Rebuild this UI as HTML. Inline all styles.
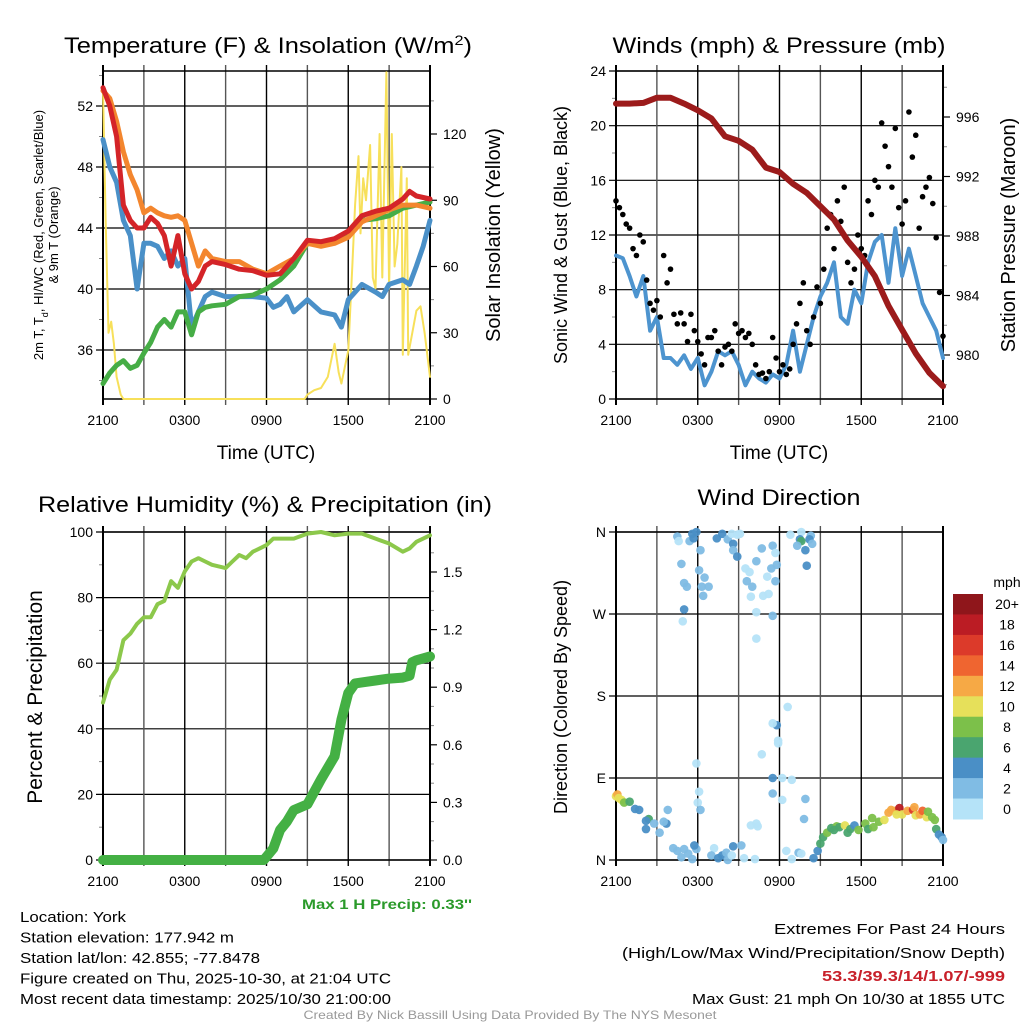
<!DOCTYPE html>
<html><head><meta charset="utf-8"><style>
html,body{margin:0;padding:0;background:#fff}
svg{display:block;font-family:"Liberation Sans",sans-serif}
</style></head><body>
<svg id="fig" width="1024" height="1024" viewBox="0 0 1024 1024">
<rect width="1024" height="1024" fill="#fff"/>
<text x="268" y="53" font-size="22" text-anchor="middle" textLength="408" lengthAdjust="spacingAndGlyphs">Temperature (F) &amp; Insolation (W/m<tspan baseline-shift="super" font-size="14">2</tspan>)</text>
<text x="779" y="53" font-size="22" text-anchor="middle" textLength="333" lengthAdjust="spacingAndGlyphs">Winds (mph) &amp; Pressure (mb)</text>
<text x="265" y="512" font-size="22" text-anchor="middle" textLength="454" lengthAdjust="spacingAndGlyphs">Relative Humidity (%) &amp; Precipitation (in)</text>
<text x="779" y="505" font-size="22" text-anchor="middle" textLength="163" lengthAdjust="spacingAndGlyphs">Wind Direction</text>
<g id="p1"></g>
<g id="p2"></g>
<g id="p3"></g>
<g id="p4"></g>
<text x="266" y="459" font-size="19" text-anchor="middle">Time (UTC)</text>
<text x="779" y="459" font-size="19" text-anchor="middle">Time (UTC)</text>
<text transform="translate(43,235) rotate(-90)" font-size="13" text-anchor="middle">2m T, T<tspan baseline-shift="sub" font-size="9">d</tspan>, HI/WC (Red, Green, Scarlet/Blue)</text>
<text transform="translate(58,235) rotate(-90)" font-size="13" text-anchor="middle">&amp; 9m T (Orange)</text>
<text transform="translate(500,235) rotate(-90)" font-size="20" text-anchor="middle">Solar Insolation (Yellow)</text>
<text transform="translate(567,235) rotate(-90)" font-size="18" text-anchor="middle">Sonic Wind &amp; Gust (Blue, Black)</text>
<text transform="translate(1015,235) rotate(-90)" font-size="20" text-anchor="middle">Station Pressure (Maroon)</text>
<text transform="translate(42,697) rotate(-90)" font-size="21" text-anchor="middle">Percent &amp; Precipitation</text>
<text transform="translate(567,697) rotate(-90)" font-size="18" text-anchor="middle">Direction (Colored By Speed)</text>
<text x="387" y="909" font-size="14" font-weight="bold" fill="#2a9a2a" text-anchor="middle" textLength="170" lengthAdjust="spacingAndGlyphs">Max 1 H Precip: 0.33''</text>
<g font-size="15">
<text x="20" y="922" textLength="106" lengthAdjust="spacingAndGlyphs">Location: York</text>
<text x="20" y="942.5" textLength="214" lengthAdjust="spacingAndGlyphs">Station elevation: 177.942 m</text>
<text x="20" y="963" textLength="240" lengthAdjust="spacingAndGlyphs">Station lat/lon: 42.855; -77.8478</text>
<text x="20" y="983.5" textLength="371" lengthAdjust="spacingAndGlyphs">Figure created on Thu, 2025-10-30, at 21:04 UTC</text>
<text x="20" y="1004" textLength="371" lengthAdjust="spacingAndGlyphs">Most recent data timestamp: 2025/10/30 21:00:00</text>
</g>
<g font-size="15" text-anchor="end">
<text x="1005" y="934" textLength="231" lengthAdjust="spacingAndGlyphs">Extremes For Past 24 Hours</text>
<text x="1005" y="958" textLength="383" lengthAdjust="spacingAndGlyphs">(High/Low/Max Wind/Precipitation/Snow Depth)</text>
<text x="1005" y="981" textLength="183" lengthAdjust="spacingAndGlyphs" font-weight="bold" fill="#c8202a">53.3/39.3/14/1.07/-999</text>
<text x="1005" y="1004" textLength="313" lengthAdjust="spacingAndGlyphs">Max Gust: 21 mph On 10/30 at 1855 UTC</text>
</g>
<text x="510" y="1019" font-size="12" fill="#999" text-anchor="middle" textLength="413" lengthAdjust="spacingAndGlyphs">Created By Nick Bassill Using Data Provided By The NYS Mesonet</text>
</svg>
<script>
// ---- data ----
const tT = [0,0.5,1,1.5,2,2.5,3,3.5,4,4.5,5,5.5,6,6.5,7,7.5,8,9,10,11,12,13,14,15,16,17,18,19,20,21,22,22.5,23,24];
const tempRed = [53.2,52,50,45.5,44.5,44,44,44.7,44.3,43.5,41.5,43.5,41,40,40.5,41.5,41.8,41.6,41.3,41.2,40.9,41,42,43.2,43.1,43.3,43.8,44.8,45.1,45.3,45.9,46.4,46.1,45.9];
const temp9m = [53,52.5,51,49,47.5,46.5,45,45.3,45,44.8,44.7,44.8,44.5,43,41.5,42.5,42,41.8,41.8,41.3,41,41.5,42,43,42.8,43,43.4,44.4,44.8,45.2,45.5,45.5,45.5,45.3];
const dewpt = [33.8,34.5,35,35.3,34.8,35,35.8,36.5,37.5,38,37.5,38.5,38.5,37,38.5,38.8,38.9,39,39.5,39.6,40,40.6,41.5,43,42.9,43.1,43.5,44.5,44.6,44.8,45.3,45.4,45.5,45.7];
const tB = [0,0.5,1,1.5,2,2.5,3,3.5,4,4.5,5,5.5,6,6.5,7,7.5,8,9,10,11,12,12.5,13,13.5,14,15,16,17,17.5,18,18.5,19,20,20.5,21,22,22.5,23,23.5,24];
const windChill = [49.8,48,47,44.5,43.5,40,43,43,42.8,42,42.5,41.5,42,37.5,38.5,39.5,39.8,39.5,39.5,39.5,39.4,38.8,39,39.5,38.5,39.3,38.5,38.3,37.5,39.3,39.8,40.3,39.8,39.5,40.3,40.6,40.3,41.5,42.8,44.5];
const tS = [0,0.2,0.4,0.6,0.8,1,1.3,1.5,14.8,15,15.5,16,16.5,17,17.3,17.5,18,18.3,18.5,18.75,18.9,19.1,19.3,19.6,19.8,20,20.3,20.5,20.8,21,21.2,21.4,21.6,21.9,22,22.3,22.4,22.7,23,23.3,23.6,24];
const solar = [140,80,30,35,25,10,2,0,0,2,4,5,10,25,12,7,22,60,88,110,75,100,90,115,55,50,120,55,148,50,120,60,70,105,20,100,20,30,40,42,30,10];
const tempTicks = [36,40,44,48,52];
const solarTicks = [0,30,60,90,120];
const timeLabels = ["2100","0300","0900","1500","2100"];

const tW = [0,0.5,1,1.5,2,2.5,3,3.5,4,4.5,5,5.5,6,6.5,7,7.5,8,8.5,9,9.5,10,10.5,11,11.5,12,12.5,13,13.5,14,14.5,15,15.5,16,16.5,17,17.5,18,18.5,19,19.5,20,20.5,21,21.5,22,22.5,23,23.5,24];
const windSpd = [10.5,10.3,9,7.5,9,5,6,3,3,2.5,3.2,2.2,3,1,2,3.5,3.2,3.5,2.5,1,2,1.5,1.2,1.8,1.5,2.5,5,2,4,6,7.5,8.5,10,6,5.5,8,7,10,11.5,12,8.5,12.5,9,11,9,7,6,5,3];
const gust = [14.5,14,13.5,12.8,12.5,11,10.5,12,11.5,8.7,7,6.5,7.2,6,10.5,8.5,9.5,6.2,5.5,6.3,5.5,4.2,6.2,5,4.2,3.3,2.5,4.5,4.5,5,3.5,2.5,3.8,4,3.5,5.5,4.8,5,4.5,4.8,4,2.5,1.8,1.9,1.5,2,4.5,3,2,2.5,1.8,2.2,4,5.5,7,8.5,5,4,6,8.2,7,9.5,12.5,13.5,11,14.5,13,15.5,10,8.5,9.5,12,11,10.5,14.5,13.5,16,15.5,20.2,18.5,17,15.5,19.8,14,12.8,14.5,21,17.7,19.3,12.5,14.8,15.5,16.2,14.3,11.8,7.8,4.6];
const tP = [0,1,2,3,4,5,6,7,8,9,10,11,12,13,14,15,16,17,18,19,20,21,22,23,24];
const pressure = [996.9,996.9,996.95,997.3,997.3,996.9,996.45,995.9,994.7,994.4,993.8,992.6,992.3,991.5,990.9,990,989.1,987.7,986.6,985.3,983.3,981.7,980.1,978.8,977.9];
const windTicks = [0,4,8,12,16,20,24];
const presTicks = [980,984,988,992,996];

const tH = [0,0.5,1,1.5,2,2.5,3,3.5,4,4.5,5,5.5,6,6.5,7,7.5,8,8.5,9,9.5,10,10.5,11,11.5,12,12.5,13,14,15,16,17,18,19,20,21,22,22.5,23,24];
const rh = [48,55,58,67,69,72,74,74,78,79,85,83,88,91,92,91,90,89.5,89,91,93,92,94,95,96,98,98,98,99.5,100,99,99.5,99.5,98,96.5,94,95,97,99];
const tR = [0,11.8,12.5,13,13.5,14,15,16,17,17.5,18,18.5,19,20,21,22,22.5,22.7,23,24];
const precip = [0,0,0.06,0.157,0.2,0.26,0.29,0.42,0.54,0.73,0.87,0.92,0.925,0.935,0.945,0.95,0.96,1.03,1.04,1.06];
const rhTicks = [0,20,40,60,80,100];
const precTicks = [0,0.3,0.6,0.9,1.2,1.5];

const dirTime = [0,0.1,0.2,0.4,0.6,1,1.4,1.7,2.4,2.2,2.2,2.8,3.8,3.7,3.5,3.2,4.2,4.5,4.8,5,5.3,5.6,5.9,4.5,4.6,4.8,5,5.2,5,4.9,5.4,5.6,5.7,5.9,6.1,6.3,6.2,6.4,6.5,6.8,6.1,5.9,6,6.2,5.75,7.2,7,7.5,7.8,8.1,8.2,8.6,8.5,9.2,9.4,7.4,7.8,8.2,8.5,8.6,8.6,8.9,9.1,8.9,9.5,9.8,9.6,9.9,10,10.3,10.7,10.3,10.3,10.8,11.2,11.1,11.5,11.4,11.8,11.7,11.5,11.7,11.8,11.9,11.5,12.6,12.9,12.2,11.5,11.5,11.9,10.7,10.4,10.2,10.3,9.9,12.2,12.5,12.9,13.4,13.6,13.9,13.8,14.3,14.2,13.6,14.4,13.9,13.5,13.6,13.3,12.8,14,14.5,14.8,15,15.2,15.5,15.8,16.2,16.4,16.8,17.2,17.5,17.8,18.3,18.5,18.9,19.3,19.7,20,20.2,20.5,20.8,21,21.4,21.8,21.9,22,22.3,22.5,22.8,22.9,23.2,23.4,23.5,23.7,23.9,24,16,17,18.8,20.6];
const dirDeg = [70,72,68,66,63,64,56,55,45,43,34,40,55,40,42,30,13,10,3,12,7,1,12,355,350,325,304,300,275,262,350,358,353,360,318,300,340,290,310,300,75,106,63,55,16,13,5,2,5,8,0,15,5,16,2,353,358,352,358,347,340,333,358,357,320,316,306,289,300,328,342,272,243,290,292,311,268,320,324,306,345,337,148,128,150,168,88,90,90,73,131,116,37,1,40,38,66,10,1,8,7,67,45,356,352,360,347,340,352,350,345,357,323,2,10,18,25,30,35,37,36,38,34,38,33,40,34,36,42,44,52,55,54,57,50,54,55,58,49,50,54,47,53,47,44,34,28,25,22,33,30,46,50];
const dirSpeed = [10,13,11,10,8,6,4,4,6,4,4,3,2,4,3,2,2,2,2,2,2,2,2,2,1,2,3,2,4,0,2,4,4,4,2,2,3,3,2,2,0,1,1,2,4,0,2,4,4,2,2,4,1,2,0,4,4,2,1,4,2,4,0,1,0,1,2,1,3,2,2,0,1,1,0,1,2,3,2,2,2,0,4,1,1,0,0,1,4,3,0,0,1,0,0,0,1,1,0,2,1,2,2,2,4,0,2,4,4,7,2,1,4,4,4,6,7,8,7,8,7,10,6,4,8,8,7,8,8,11,12,13,12,18,11,12,17,13,10,12,14,10,8,8,8,6,4,4,3,6,6,8,10];
const speedLabels = ["0","2","4","6","8","10","12","14","16","18","20+"];
const speedColors = ["#b5e3f8","#80bce4","#4a8fc6","#4aa56f","#7cc04a","#e6e05a","#f6a945","#ef6530","#dc3a2a","#bb1c24","#8f161b"];

// ---- helpers ----
const NS = "http://www.w3.org/2000/svg";
function mk(parent, tag, attrs){ const e=document.createElementNS(NS,tag); for(const k in attrs) e.setAttribute(k,attrs[k]); parent.appendChild(e); return e; }
const X0=103, X1=430;
function xScale(off){ return t => off + X0 + t*(X1-X0)/24; }
function lin(d0,d1,r0,r1){ return v => r0 + (v-d0)*(r1-r0)/(d1-d0); }
function pathD(ts,vs,xs,ys){ return ts.map((t,i)=>(i?"L":"M")+xs(t).toFixed(1)+","+ys(vs[i]).toFixed(1)).join(""); }

function frame(g, off, top, bot, yticksL, ysL, ytl, yticksR, ysR, ytr, minorL, minorR){
  const xs = xScale(off);
  yticksL.forEach(v=>{ const y=ysL(v);
    const l=mk(g,"line",{x1:xs(0)-7,x2:xs(24),y1:y,y2:y,stroke:"#000","stroke-width":1.2});
     
    const t=mk(g,"text",{x:xs(0)-10,y:y+5,"font-size":14,"text-anchor":"end"}); t.textContent=ytl(v);
     
  });
  (minorL||[]).forEach(v=>{const y=ysL(v); mk(g,"line",{x1:xs(0)-4,x2:xs(0),y1:y,y2:y,stroke:"#888","stroke-width":1});});
  if(yticksR) yticksR.forEach(v=>{ const y=ysR(v);
    mk(g,"line",{x1:xs(24),x2:xs(24)+7,y1:y,y2:y,stroke:"#000","stroke-width":1.2});
    const t=mk(g,"text",{x:xs(24)+13,y:y+5,"font-size":14}); t.textContent=ytr(v);
     
  });
  (minorR||[]).forEach(v=>{const y=ysR(v); mk(g,"line",{x1:xs(24),x2:xs(24)+4,y1:y,y2:y,stroke:"#888","stroke-width":1});});
  for(let h=0;h<=24;h+=3){ const x=xs(h);
    const l=mk(g,"line",{x1:x,x2:x,y1:top-6,y2:bot+6,stroke:(h%6===0?"#000":"#555"),"stroke-width":(h===0||h===24)?2:1.4});
     
  }
  mk(g,"line",{x1:xs(0),x2:xs(24),y1:top,y2:top,stroke:"#000","stroke-width":1.4});
  mk(g,"line",{x1:xs(0),x2:xs(24),y1:bot,y2:bot,stroke:"#000","stroke-width":1.4});
  timeLabels.forEach((s,i)=>{ const t=mk(g,"text",{x:xs(i*6),y:bot+26,"font-size":14,"text-anchor":"middle"}); t.textContent=s;
      });
  return xs;
}
function line(g,d,color,w,name){ const p=mk(g,"path",{d:d,fill:"none",stroke:color,"stroke-width":w,"stroke-linejoin":"round","stroke-linecap":"round"});
    return p; }

// ---- panel 1 ----
(function(){
  const g=document.getElementById("p1");
  const yT=lin(40,52,289,106), yS=lin(0,120,399,134);
  const minor=[34,38,42,46,50,54].filter(v=>yT(v)>71);
  const xs=frame(g,0,71,399,tempTicks,yT,v=>v,solarTicks,yS,v=>v,minor,[15,45,75,105,135]);
  line(g,pathD(tS,solar,xs,yS),"#f7e05a",2,"solar-line");
  line(g,pathD(tB,windChill,xs,yT),"#4a90c8",5,"windchill-line");
  line(g,pathD(tT,dewpt,xs,yT),"#46ad46",5,"dewpoint-line");
  line(g,pathD(tT,temp9m,xs,yT),"#f3862e",5,"temp-9m-line");
  line(g,pathD(tT,tempRed,xs,yT),"#d42428",5,"temp-2m-line");
})();
// ---- panel 2 ----
(function(){
  const g=document.getElementById("p2");
  const yW=lin(0,24,399,71), yP=lin(980,996,355,117);
  const xs=frame(g,513,71,399,windTicks,yW,v=>v,presTicks,yP,v=>v,[2,6,10,14,18,22],[978,982,986,990,994,998]);
  line(g,pathD(tW,windSpd,xs,yW),"#4d94cf",4,"wind-speed-line");
  gust.forEach((v,i)=>{ const c=mk(g,"circle",{cx:xs(i*0.25),cy:yW(v),r:2.8,fill:"#000"});
      });
  line(g,pathD(tP,pressure,xs,yP),"#9c1b1b",6,"pressure-line");
})();
// ---- panel 3 ----
(function(){
  const g=document.getElementById("p3");
  const yH=lin(0,100,860,532), yR=lin(0,1.5,860,572);
  const xs=frame(g,0,532,860,rhTicks,yH,v=>v,precTicks,yR,v=>v.toFixed(1),[10,30,50,70,90],[0.1,0.2,0.4,0.5,0.7,0.8,1.0,1.1,1.3,1.4,1.6]);
  line(g,pathD(tH,rh,xs,yH),"#8cc84b",4,"humidity-line");
  line(g,pathD(tR,precip,xs,yR),"#44b044",10,"precip-line");
})();
// ---- panel 4 ----
(function(){
  const g=document.getElementById("p4");
  const yD=lin(0,360,860,532);
  const dirVals=[0,90,180,270,360], dirLab=["N","E","S","W","N"];
  const xs=frame(g,513,532,860,dirVals,yD,v=>dirLab[dirVals.indexOf(v)],null,null,null,[],[]);
  dirTime.forEach((t,i)=>{ const bin=Math.min(10,Math.floor(dirSpeed[i]/2));
    const c=mk(g,"circle",{cx:xs(t),cy:yD(dirDeg[i]),r:4.3,fill:speedColors[bin],"fill-opacity":0.95});
      });
  const lg=mk(g,"g",{});
   
  const t0=mk(lg,"text",{x:1007,y:587,"font-size":14,"text-anchor":"middle"}); t0.textContent="mph";
   
  const h=(819-594)/11;
  speedLabels.forEach((s,i)=>{ const k=10-i; const y=594+i*h;
    const r=mk(lg,"rect",{x:953,y:y,width:30,height:h+0.5,fill:speedColors[k]});
     
    const t=mk(lg,"text",{x:1007,y:y+h/2+5,"font-size":14,"text-anchor":"middle"}); t.textContent=speedLabels[k];
     
  });
})();
</script>
</body></html>
